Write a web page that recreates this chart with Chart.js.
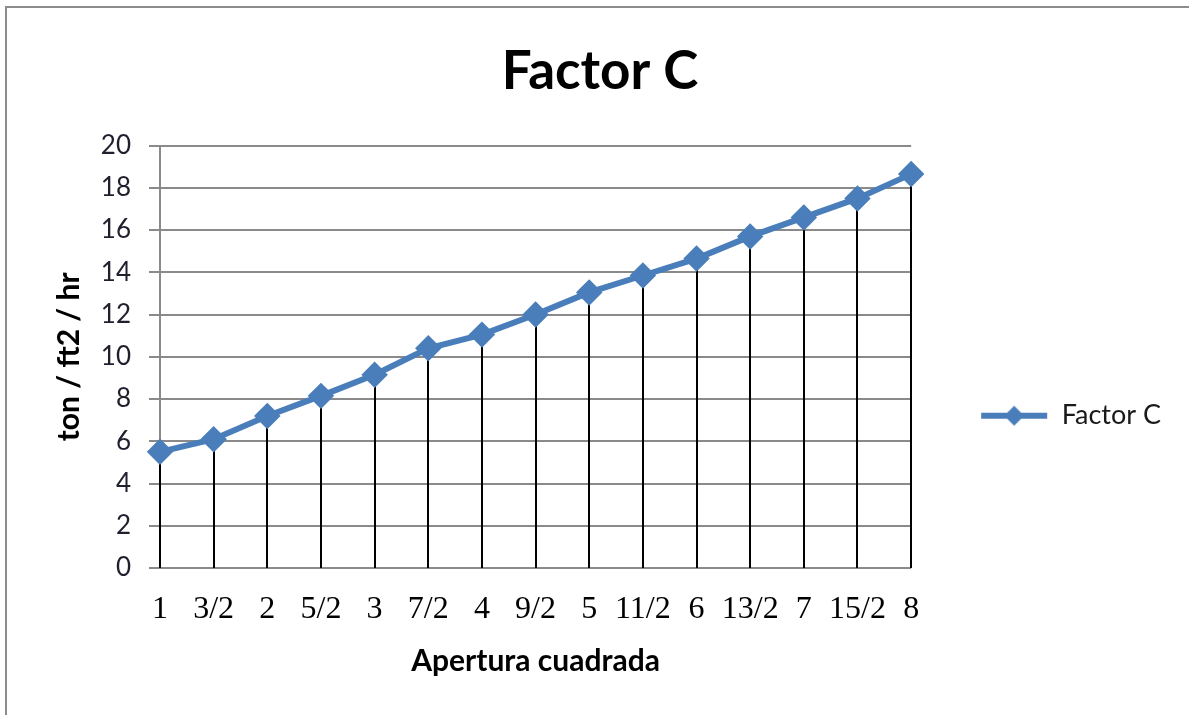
<!DOCTYPE html>
<html>
<head>
<meta charset="utf-8">
<script src="https://cdn.jsdelivr.net/npm/chart.js@4"></script>
<style>
  body { margin: 0; background: #fff; }
  #wrap { position: relative; width: 1189px; height: 715px; overflow: hidden; }
  #frame { position: absolute; left: 5px; top: 6px; width: 1200px; height: 720px;
           border-left: 2px solid #8c8c8c; border-top: 2px solid #8c8c8c; }
  #chart { position: absolute; left: 0; top: 0; }
</style>
</head>
<body>
<div id="wrap">
  <div id="frame"></div>
  <canvas id="chart" width="1189" height="715"></canvas>
</div>
<script>
// Datos del gráfico
const aperturas = ['1', '3/2', '2', '5/2', '3', '7/2', '4', '9/2', '5', '11/2', '6', '13/2', '7', '15/2', '8'];
const factorC = [5.5, 6.1, 7.2, 8.15, 9.15, 10.4, 11.05, 12.0, 13.05, 13.85, 14.65, 15.7, 16.6, 17.5, 18.65];
const yTicks = [0, 2, 4, 6, 8, 10, 12, 14, 16, 18, 20];

const azul = '#4a7ebb';

// Icono de la leyenda: línea con rombo
function legendIcon() {
  const c = document.createElement('canvas');
  c.width = 68; c.height = 22;
  const g = c.getContext('2d');
  g.strokeStyle = azul;
  g.lineWidth = 6;
  g.beginPath(); g.moveTo(1, 11); g.lineTo(67, 11); g.stroke();
  g.fillStyle = azul;
  g.beginPath(); g.moveTo(34, 1); g.lineTo(44, 11); g.lineTo(34, 21); g.lineTo(24, 11); g.closePath(); g.fill();
  return c;
}

// Líneas de caída desde cada punto hasta el eje
const dropLines = {
  id: 'dropLines',
  beforeDatasetsDraw(chart) {
    const ctx = chart.ctx;
    const meta = chart.getDatasetMeta(0);
    const base = chart.scales.y.getPixelForValue(0);
    ctx.save();
    ctx.strokeStyle = '#000';
    ctx.lineWidth = 2;
    meta.data.forEach(p => {
      ctx.beginPath();
      ctx.moveTo(Math.round(p.x), p.y);
      ctx.lineTo(Math.round(p.x), base);
      ctx.stroke();
    });
    ctx.restore();
  }
};

const ctx = document.getElementById('chart').getContext('2d');
new Chart(ctx, {
  type: 'line',
  data: {
    labels: aperturas,
    datasets: [{
      label: 'Factor C',
      data: factorC,
      borderColor: azul,
      backgroundColor: azul,
      borderWidth: 6,
      pointStyle: 'rectRot',
      pointRadius: 9,
      pointHoverRadius: 9,
      tension: 0
    }]
  },
  plugins: [dropLines],
  options: {
    responsive: false,
    animation: false,
    layout: { padding: { left: 29, right: 18, top: 0, bottom: 34 } },
    plugins: {
      title: {
        display: true,
        text: 'Factor C',
        color: '#000',
        font: { family: 'Lato', size: 53, weight: 'bold' },
        padding: { top: 40, bottom: 42 }
      },
      legend: {
        position: 'right',
        title: { display: true, text: '', padding: { top: 136, bottom: 0 } },
        labels: {
          usePointStyle: true,
          pointStyle: legendIcon(),
          pointStyleWidth: 68,
          padding: 69,
          color: '#1a1a1a',
          font: { family: 'Lato', size: 27 }
        }
      },
      tooltip: { enabled: false }
    },
    scales: {
      x: {
        offset: false,
        afterFit: axis => { axis.height = 113; },
        grid: { display: false, drawTicks: false },
        border: { display: false },
        ticks: {
          autoSkip: false,
          maxRotation: 0,
          padding: 22,
          color: '#000',
          font: { family: 'Liberation Serif', size: 32 }
        },
        title: {
          display: true,
          text: 'Apertura cuadrada',
          color: '#000',
          font: { family: 'Lato', size: 30, weight: 'bold' },
          padding: { top: 10, bottom: 2 }
        }
      },
      y: {
        min: 0,
        max: 20,
        afterBuildTicks: axis => { axis.ticks = yTicks.map(v => ({ value: v })); },
        afterFit: axis => { axis.width = 131; },
        grid: { color: '#8a8a8a', lineWidth: 2, tickLength: 11 },
        border: { color: '#8a8a8a', width: 2 },
        ticks: {
          padding: 18,
          color: '#1f1f2e',
          font: { family: 'Lato', size: 26 }
        },
        title: {
          display: true,
          text: 'ton / ft2 / hr',
          color: '#000',
          font: { family: 'Lato', size: 30, weight: 'bold' },
          padding: { top: 22, bottom: 4 }
        }
      }
    }
  }
});
</script>
</body>
</html>
